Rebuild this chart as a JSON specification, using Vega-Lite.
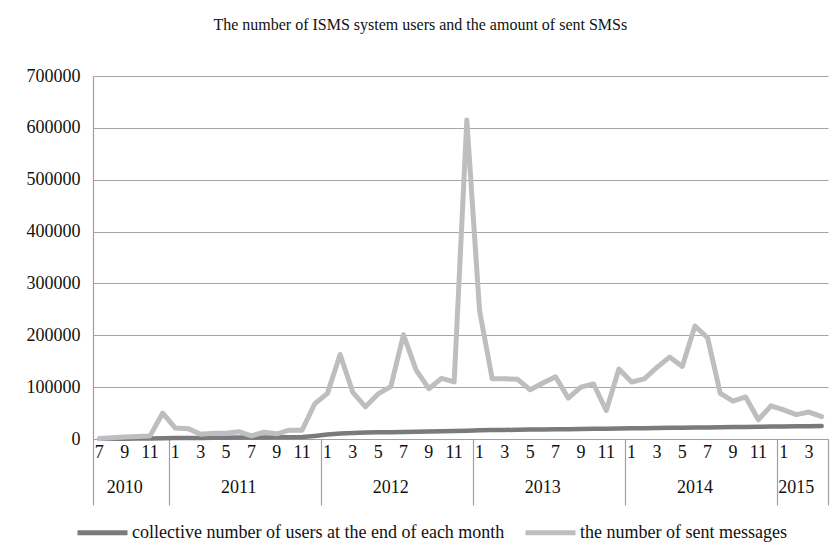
{
  "$schema": "https://vega.github.io/schema/vega-lite/v6.json",
  "width": 735,
  "height": 363,
  "padding": {"left": 26, "top": 17, "right": 12, "bottom": 5},
  "background": "white",
  "config": {
    "font": "Liberation Serif",
    "view": {"stroke": null},
    "axis": {"labelFont": "Liberation Serif", "labelFontSize": 18, "labelColor": "#111"},
    "legend": {"labelFont": "Liberation Serif"}
  },
  "title": {
    "text": "The number of ISMS system users and the amount of sent SMSs",
    "font": "Liberation Serif",
    "fontSize": 16,
    "fontWeight": "normal",
    "color": "#111",
    "anchor": "middle",
    "frame": "bounds",
    "dx": -7,
    "offset": 34
  },
  "data": {
    "values": [
      {"month": "2010-07", "users": 300, "sms": 1000},
      {"month": "2010-08", "users": 500, "sms": 2500},
      {"month": "2010-09", "users": 700, "sms": 4000},
      {"month": "2010-10", "users": 900, "sms": 5000},
      {"month": "2010-11", "users": 1100, "sms": 6000},
      {"month": "2010-12", "users": 1400, "sms": 50000},
      {"month": "2011-01", "users": 1700, "sms": 21000},
      {"month": "2011-02", "users": 1900, "sms": 20000},
      {"month": "2011-03", "users": 2100, "sms": 9000},
      {"month": "2011-04", "users": 2300, "sms": 11000},
      {"month": "2011-05", "users": 2500, "sms": 11000},
      {"month": "2011-06", "users": 2700, "sms": 14000},
      {"month": "2011-07", "users": 2900, "sms": 6000},
      {"month": "2011-08", "users": 3100, "sms": 13000},
      {"month": "2011-09", "users": 3300, "sms": 10000},
      {"month": "2011-10", "users": 3500, "sms": 17000},
      {"month": "2011-11", "users": 4000, "sms": 17000},
      {"month": "2011-12", "users": 6000, "sms": 68000},
      {"month": "2012-01", "users": 8500, "sms": 88000},
      {"month": "2012-02", "users": 10500, "sms": 163000},
      {"month": "2012-03", "users": 11500, "sms": 90000},
      {"month": "2012-04", "users": 12300, "sms": 62000},
      {"month": "2012-05", "users": 12800, "sms": 87000},
      {"month": "2012-06", "users": 13200, "sms": 101000},
      {"month": "2012-07", "users": 13600, "sms": 201000},
      {"month": "2012-08", "users": 14000, "sms": 133000},
      {"month": "2012-09", "users": 14400, "sms": 97000},
      {"month": "2012-10", "users": 14800, "sms": 117000},
      {"month": "2012-11", "users": 15300, "sms": 110000},
      {"month": "2012-12", "users": 16000, "sms": 615000},
      {"month": "2013-01", "users": 16800, "sms": 248000},
      {"month": "2013-02", "users": 17200, "sms": 116000},
      {"month": "2013-03", "users": 17500, "sms": 116000},
      {"month": "2013-04", "users": 17800, "sms": 115000},
      {"month": "2013-05", "users": 18100, "sms": 95000},
      {"month": "2013-06", "users": 18400, "sms": 108000},
      {"month": "2013-07", "users": 18700, "sms": 120000},
      {"month": "2013-08", "users": 19000, "sms": 79000},
      {"month": "2013-09", "users": 19300, "sms": 100000},
      {"month": "2013-10", "users": 19600, "sms": 106000},
      {"month": "2013-11", "users": 19900, "sms": 55000},
      {"month": "2013-12", "users": 20200, "sms": 135000},
      {"month": "2014-01", "users": 20600, "sms": 110000},
      {"month": "2014-02", "users": 20900, "sms": 116000},
      {"month": "2014-03", "users": 21200, "sms": 138000},
      {"month": "2014-04", "users": 21500, "sms": 158000},
      {"month": "2014-05", "users": 21800, "sms": 140000},
      {"month": "2014-06", "users": 22100, "sms": 218000},
      {"month": "2014-07", "users": 22400, "sms": 195000},
      {"month": "2014-08", "users": 22700, "sms": 88000},
      {"month": "2014-09", "users": 23000, "sms": 73000},
      {"month": "2014-10", "users": 23300, "sms": 81000},
      {"month": "2014-11", "users": 23600, "sms": 37000},
      {"month": "2014-12", "users": 23900, "sms": 64000},
      {"month": "2015-01", "users": 24200, "sms": 56000},
      {"month": "2015-02", "users": 24500, "sms": 47000},
      {"month": "2015-03", "users": 24800, "sms": 52000},
      {"month": "2015-04", "users": 25100, "sms": 43000}
    ]
  },
  "resolve": {"scale": {"x": "shared"}, "axis": {"x": "independent"}},
  "layer": [
    {
      "mark": {"type": "line", "strokeWidth": 4.5, "strokeCap": "round", "strokeJoin": "round"},
      "encoding": {
        "x": {
          "field": "month", "type": "ordinal", "sort": null, "bandPosition": 0.5,
          "scale": {"type": "band", "paddingInner": 0, "paddingOuter": 0},
          "axis": {
            "orient": "bottom", "title": null, "grid": false, "ticks": false, "tickSize": 0,
            "labelAngle": 0, "labelPadding": 4, "labelOverlap": false,
            "labelFont": "Liberation Serif", "labelFontSize": 18,
            "domainColor": "#a0a0a0", "domainWidth": 1.2,
            "values": ["2010-07","2010-09","2010-11","2011-01","2011-03","2011-05","2011-07","2011-09","2011-11","2012-01","2012-03","2012-05","2012-07","2012-09","2012-11","2013-01","2013-03","2013-05","2013-07","2013-09","2013-11","2014-01","2014-03","2014-05","2014-07","2014-09","2014-11","2015-01","2015-03"],
            "labelExpr": "toNumber(substring(datum.value, 5, 7))"
          }
        },
        "y": {
          "field": "users", "type": "quantitative",
          "scale": {"domain": [0, 700000], "nice": false},
          "axis": {"title": null, "values": [0,100000,200000,300000,400000,500000,600000,700000], "format": "d", "ticks": false, "labelPadding": 13, "labelFont": "Liberation Serif", "labelFontSize": 18, "gridColor": "#a6a6a6", "gridWidth": 1.2, "domainColor": "#a0a0a0", "domainWidth": 1.2}
        },
        "color": {
          "datum": "collective number of users at the end of each month",
          "type": "nominal",
          "scale": {"domain": ["collective number of users at the end of each month", "the number of sent messages"], "range": ["#7a7a7d", "#bebec0"]},
          "legend": {
            "title": null, "orient": "none", "legendX": -18, "legendY": 429, "direction": "horizontal",
            "symbolType": "stroke", "symbolSize": 2500, "symbolStrokeWidth": 5,
            "labelFont": "Liberation Serif", "labelFontSize": 18, "labelColor": "#111", "labelOffset": 2, "columnSpacing": 56, "labelLimit": 600
          }
        }
      }
    },
    {
      "mark": {"type": "line", "strokeWidth": 5, "strokeCap": "round", "strokeJoin": "round"},
      "encoding": {
        "x": {"field": "month", "type": "ordinal", "sort": null, "bandPosition": 0.5, "axis": null},
        "y": {
          "field": "sms", "type": "quantitative",
          "axis": {"title": null, "values": [0,100000,200000,300000,400000,500000,600000,700000], "format": "d", "ticks": false, "labelPadding": 13, "labelFont": "Liberation Serif", "labelFontSize": 18, "gridColor": "#a6a6a6", "gridWidth": 1.2, "domainColor": "#a0a0a0", "domainWidth": 1.2}
        },
        "color": {"datum": "the number of sent messages", "type": "nominal"}
      }
    },
    {
      "mark": {"type": "point", "opacity": 0},
      "encoding": {
        "x": {
          "field": "month", "type": "ordinal", "sort": null,
          "axis": {"orient": "bottom", "title": null, "grid": false, "labels": false, "domain": false, "ticks": true, "tickSize": 66, "tickColor": "#a0a0a0", "tickWidth": 1.2, "bandPosition": 0,
            "values": ["2010-07","2011-01","2012-01","2013-01","2014-01","2015-01"]}
        }
      }
    },
    {
      "mark": {"type": "point", "opacity": 0},
      "encoding": {
        "x": {
          "field": "month", "type": "ordinal", "sort": null,
          "axis": {"orient": "bottom", "title": null, "grid": false, "labels": false, "domain": false, "ticks": true, "tickSize": 66, "tickColor": "#a0a0a0", "tickWidth": 1.2, "bandPosition": 1,
            "values": ["2015-04"]}
        }
      }
    },
    {
      "mark": {"type": "point", "opacity": 0},
      "encoding": {
        "x": {
          "field": "month", "type": "ordinal", "sort": null,
          "axis": {"orient": "bottom", "title": null, "grid": false, "domain": false, "ticks": false, "tickSize": 0, "bandPosition": 1,
            "labelAngle": 0, "labelPadding": 39, "labelOverlap": false,
            "labelFont": "Liberation Serif", "labelFontSize": 18,
            "values": ["2010-09","2011-06","2012-06","2013-06","2014-06","2015-02"],
            "labelExpr": "substring(datum.value, 0, 4)"}
        }
      }
    }
  ]
}
